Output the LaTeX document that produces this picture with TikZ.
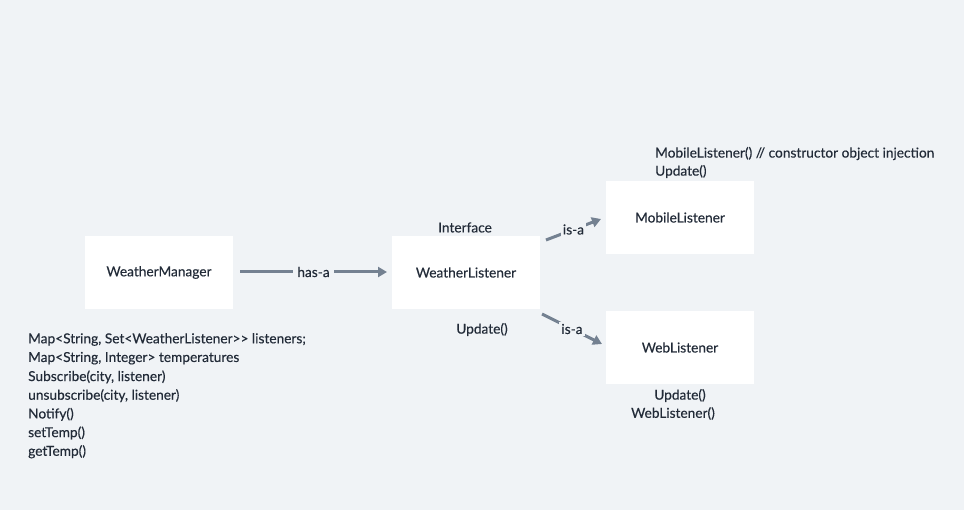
\documentclass[tikz,border=0pt]{standalone}
\usepackage{fontspec}
\setmainfont{Lato}[FakeBold=0.3]
\usetikzlibrary{arrows.meta}
\definecolor{bg}{HTML}{F0F3F6}
\definecolor{ink}{HTML}{222B38}
\definecolor{arr}{HTML}{748191}
\begin{document}
\begin{tikzpicture}[x=1pt,y=-1pt,
  box/.style={fill=white,draw=none,minimum width=148pt,minimum height=73pt,inner sep=0pt,text=ink,font=\fontsize{13.7}{16}\selectfont},
  txt/.style={text=ink,inner sep=0pt,font=\fontsize{13.7}{16}\selectfont},
  conn/.style={draw=arr,line width=3pt,-{Triangle[length=9pt,width=10pt]}},
  lab/.style={fill=bg,text=ink,inner xsep=4pt,inner ysep=1.5pt,font=\fontsize{13.7}{16}\selectfont}]
\fill[bg] (0,0) rectangle (964,510);
\useasboundingbox (0,0) rectangle (964,510);
\node[box] (wm) at (159,272.5) {WeatherManager};
\node[box] (wl) at (466,272.5) {WeatherListener};
\node[box] (ml) at (680,217.5) {MobileListener};
\node[box] (web) at (680,347.5) {WebListener};
\coordinate (a1) at (240,272);
\coordinate (a2) at (387,272);
\draw[conn] (a1) -- node[lab] {has-a} (a2);
\coordinate (b1) at (546,240);
\coordinate (b2) at (601,219);
\draw[conn] (b1) -- node[lab,inner xsep=2pt] {is-a} (b2);
\coordinate (c1) at (542,314);
\coordinate (c2) at (602,344);
\draw[conn] (c1) -- node[lab,inner xsep=2pt] {is-a} (c2);
\node[txt] (iface) at (465,227.5) {Interface};
\node[txt] (wlu) at (482,329.5) {Update()};
\node[txt,anchor=west] (mlc) at (655,153.5) {MobileListener() // constructor object injection};
\node[txt,anchor=west] (mlu) at (655,171.5) {Update()};
\node[txt] (webu) at (680,395.5) {Update()};
\node[txt] (webc) at (673,413.5) {WebListener()};
\node[txt,anchor=west] (m1) at (28,339.5) {Map<String, Set<WeatherListener>{}> listeners;};
\node[txt,anchor=west] (m2) at (28,358.2) {Map<String, Integer> temperatures};
\node[txt,anchor=west] (m3) at (28,376.9) {Subscribe(city, listener)};
\node[txt,anchor=west] (m4) at (28,395.6) {unsubscribe(city, listener)};
\node[txt,anchor=west] (m5) at (28,414.3) {Notify()};
\node[txt,anchor=west] (m6) at (28,433.0) {setTemp()};
\node[txt,anchor=west] (m7) at (28,451.7) {getTemp()};
\end{tikzpicture}
\end{document}
